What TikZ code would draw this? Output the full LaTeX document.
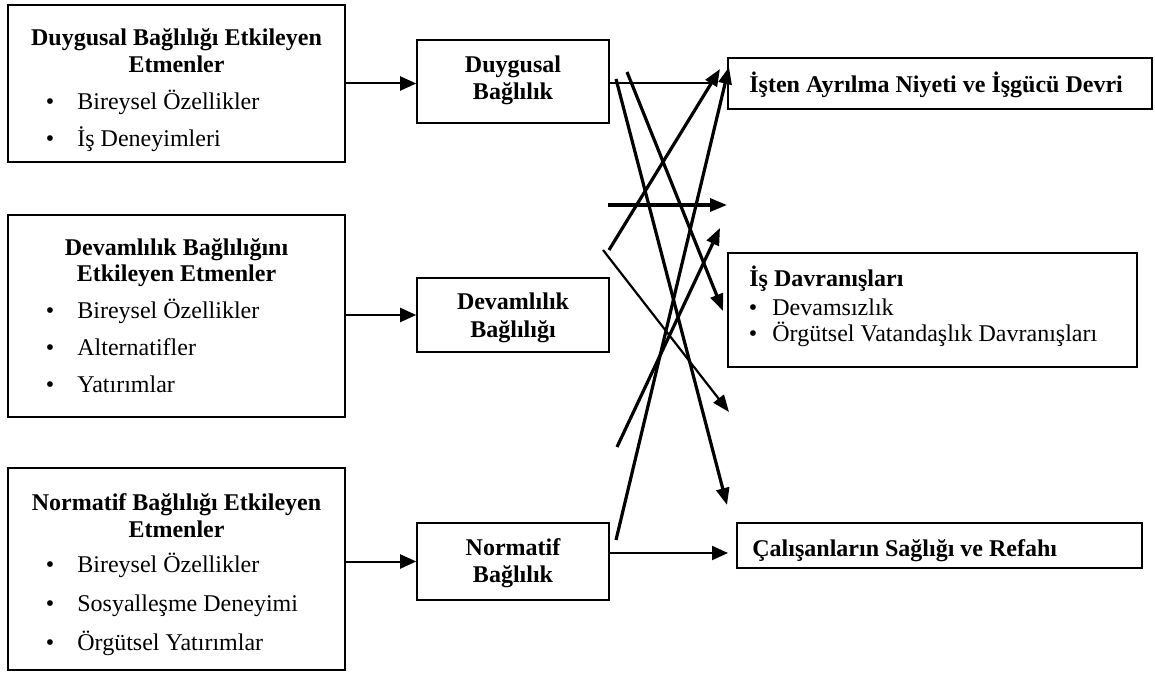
\documentclass[tikz,border=0pt]{standalone}
\usepackage{fontspec}
\setmainfont{Liberation Serif}
\usetikzlibrary{arrows.meta}
\begin{document}
\begin{tikzpicture}[x=0.5pt,y=0.5pt,yscale=-1,xscale=1,
  box/.style={draw, line width=0.8pt, inner sep=0pt},
  txt/.style={inner sep=0pt, anchor=base west, font=\fontsize{12}{14}\selectfont},
  ttl/.style={inner sep=0pt, anchor=base, font=\fontsize{12}{14}\selectfont\bfseries},
  blt/.style={inner sep=0pt, anchor=base, font=\fontsize{12}{14}\selectfont},
  link/.style={line width=1pt, -{Triangle[length=8pt,width=7pt]}},
  cross/.style={line width=1.6pt, -{Triangle[length=8.5pt,width=6.5pt]}}]
\useasboundingbox (0,0) rectangle (1155,673);

%Shape: Rectangle [left column]
\node [box, minimum width=168.5pt, minimum height=78.5pt] (duyEt) at (176.5,83.5) {};
\node [box, minimum width=168.5pt, minimum height=101pt] (devEt) at (176.5,316) {};
\node [box, minimum width=168.5pt, minimum height=101pt] (norEt) at (176.5,569) {};
%Shape: Rectangle [middle column]
\node [box, minimum width=96pt, minimum height=41.5pt] (duyB) at (513,81.5) {};
\node [box, minimum width=96pt, minimum height=37pt] (devB) at (513,315) {};
\node [box, minimum width=96pt, minimum height=38.5pt] (norB) at (513,561.5) {};
%Shape: Rectangle [right column]
\node [box, minimum width=212pt, minimum height=25.5pt] (ayril) at (940,83.5) {};
\node [box, minimum width=204.5pt, minimum height=57pt] (davr) at (932.5,310) {};
\node [box, minimum width=202.5pt, minimum height=22.5pt] (saglik) at (939.5,545.5) {};

% Text Node
\node [ttl] (duyEtT1) at (176.5,46) {Duygusal Bağlılığı Etkileyen};
\node [ttl] (duyEtT2) at (176.5,73) {Etmenler};
\node [blt] (duyEtB1) at (50,110) {\textbullet};
\node [txt] (duyEtL1) at (77,110) {Bireysel Özellikler};
\node [blt] (duyEtB2) at (50,147) {\textbullet};
\node [txt] (duyEtL2) at (77,147) {İş Deneyimleri};
% Text Node
\node [ttl] (devEtT1) at (176.5,256) {Devamlılık Bağlılığını};
\node [ttl] (devEtT2) at (176.5,282) {Etkileyen Etmenler};
\node [blt] (devEtB1) at (50,319) {\textbullet};
\node [txt] (devEtL1) at (77,319) {Bireysel Özellikler};
\node [blt] (devEtB2) at (50,356) {\textbullet};
\node [txt] (devEtL2) at (77,356) {Alternatifler};
\node [blt] (devEtB3) at (50,393) {\textbullet};
\node [txt] (devEtL3) at (77,393) {Yatırımlar};
% Text Node
\node [ttl] (norEtT1) at (176.5,510) {Normatif Bağlılığı Etkileyen};
\node [ttl] (norEtT2) at (176.5,537) {Etmenler};
\node [blt] (norEtB1) at (50,572) {\textbullet};
\node [txt] (norEtL1) at (77,572) {Bireysel Özellikler};
\node [blt] (norEtB2) at (50,611) {\textbullet};
\node [txt] (norEtL2) at (77,611) {Sosyalleşme Deneyimi};
\node [blt] (norEtB3) at (50,650) {\textbullet};
\node [txt] (norEtL3) at (77,650) {Örgütsel Yatırımlar};
% Text Node
\node [ttl] (duyBT1) at (513,73) {Duygusal};
\node [ttl] (duyBT2) at (513,100) {Bağlılık};
\node [ttl] (devBT1) at (513,310) {Devamlılık};
\node [ttl] (devBT2) at (513,337) {Bağlılığı};
\node [ttl] (norBT1) at (513,555) {Normatif};
\node [ttl] (norBT2) at (513,582) {Bağlılık};
% Text Node
\node [txt, font=\fontsize{12}{14}\selectfont\bfseries] (ayrilT) at (749,93) {İşten Ayrılma Niyeti ve İşgücü Devri};
\node [txt, font=\fontsize{12}{14}\selectfont\bfseries] (davrT) at (749,287) {İş Davranışları};
\node [blt] (davrB1) at (753,315) {\textbullet};
\node [txt] (davrL1) at (772,315) {Devamsızlık};
\node [blt] (davrB2) at (753,342) {\textbullet};
\node [txt] (davrL2) at (772,342) {Örgütsel Vatandaşlık Davranışları};
\node [txt, font=\fontsize{12}{14}\selectfont\bfseries] (saglikT) at (752,556) {Çalışanların Sağlığı ve Refahı};

%Straight Lines [factors to commitment]
\draw [link] (duyEt.east) -- (duyEt.east -| duyB.west);
\draw [link] (devB.west -| devEt.east) -- (devB.west);
\draw [link] (norB.west -| norEt.east) -- (norB.west);

% free ends of the crossing lines
\coordinate (duyS1) at (616,79);
\coordinate (duyS2) at (627,72);
\coordinate (devS1) at (609,250);
\coordinate (devS2) at (603,250);
\coordinate (norS1) at (616,540);
\coordinate (norS2) at (617,447);
\coordinate (midS) at (608,205);
\coordinate (midE) at (727,205);
\coordinate (ayrilE1) at (720,69);
\coordinate (ayrilE2) at (729,67);
\coordinate (ayrilE3) at (714,83);
\coordinate (davrE) at (723,311);
\coordinate (gapE1) at (720,228);
\coordinate (gapE2) at (729,412);
\coordinate (saglikE) at (727,505);
\coordinate (saglikE2) at (728,553);

%Straight Lines [outcomes]
\draw [line width=1pt] (duyB.east |- ayrilE3) -- (ayrilE3);
\draw [cross] (duyS1) -- (saglikE);
\draw [cross] (duyS2) -- (davrE);
\draw [cross] (devS1) -- (ayrilE1);
\draw [line width=1.1pt, -{Triangle[length=8.5pt,width=6.5pt]}] (devS2) -- (gapE2);
\draw [cross] (norS1) -- (ayrilE2);
\draw [cross] (norS2) -- (gapE1);
\draw [cross] (midS) -- (midE);
\draw [link] (norB.east |- saglikE2) -- (saglikE2);

\end{tikzpicture}
\end{document}
